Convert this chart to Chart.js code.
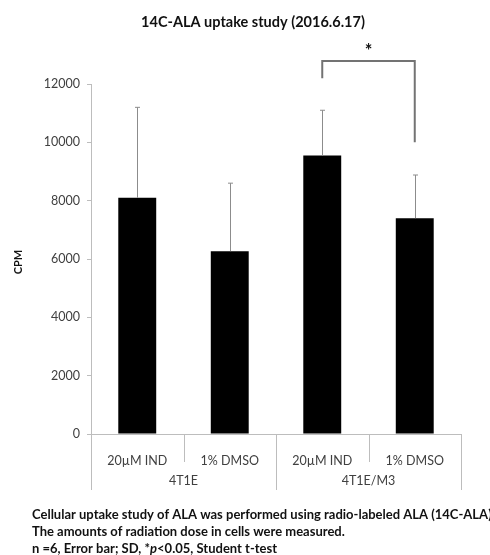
<!DOCTYPE html>
<html>
<head>
<meta charset="utf-8">
<script src="https://cdn.jsdelivr.net/npm/chart.js@4"></script>
<style>
  body { margin: 0; background: #fff; }
</style>
</head>
<body>
<canvas id="myChart" width="490" height="555"></canvas>
<script>
const categories = ["20µM IND", "1% DMSO", "20µM IND", "1% DMSO"];
const groups = ["4T1E", "4T1E/M3"];
const cpmMean = [8100, 6270, 9550, 7400];
const cpmSD = [3100, 2330, 1550, 1480];
// significance bracket between bar 3 and bar 4
const bracket = { from: 2, to: 3, top: 12790, leftEnd: 12200, rightEnd: 10000, label: "*" };
const notes = [
  "Cellular uptake study of ALA was performed using radio-labeled ALA (14C-ALA)",
  "The amounts of radiation dose in cells were measured.",
];

const font = "Lato, 'Open Sans', sans-serif";

const extras = {
  id: "extras",
  afterDraw(chart) {
    const c = chart.ctx;
    const x = chart.scales.x;
    const y = chart.scales.y;
    const area = chart.chartArea;
    c.save();

    // error bars
    c.strokeStyle = "#8c8c8c";
    c.lineWidth = 1;
    cpmMean.forEach((v, i) => {
      const px = Math.round(x.getPixelForValue(i)) + 0.5;
      const y0 = y.getPixelForValue(v);
      const y1 = y.getPixelForValue(v + cpmSD[i]);
      c.beginPath();
      c.moveTo(px, y0);
      c.lineTo(px, y1);
      c.moveTo(px - 2.5, y1);
      c.lineTo(px + 2.5, y1);
      c.stroke();
    });

    // x axis line and separators
    c.strokeStyle = "#bdbdbd";
    c.lineWidth = 1;
    c.beginPath();
    c.moveTo(area.left, area.bottom + 0.5);
    c.lineTo(area.right, area.bottom + 0.5);
    const step = (area.right - area.left) / categories.length;
    for (let i = 0; i <= categories.length; i++) {
      const sx = Math.round(area.left + step * i) + 0.5;
      const len = i % 2 === 0 ? 56 : 28;
      c.moveTo(sx, area.bottom);
      c.lineTo(sx, area.bottom + len);
    }
    c.stroke();

    // group labels
    c.fillStyle = "#404040";
    c.font = "12.5px " + font;
    c.textAlign = "center";
    c.textBaseline = "middle";
    groups.forEach((g, i) => {
      const gx = area.left + step * (2 * i + 1);
      c.fillText(g, gx, area.bottom + 47);
    });

    // y axis title
    c.save();
    c.translate(18, 262);
    c.rotate(-Math.PI / 2);
    c.fillStyle = "#111";
    c.font = "bold 11px " + font;
    c.fillText("CPM", 0, 0);
    c.restore();

    // bracket
    const bx1 = x.getPixelForValue(bracket.from);
    const bx2 = x.getPixelForValue(bracket.to);
    const bt = y.getPixelForValue(bracket.top);
    c.strokeStyle = "#737373";
    c.lineWidth = 2;
    c.beginPath();
    c.moveTo(bx1, y.getPixelForValue(bracket.leftEnd));
    c.lineTo(bx1, bt);
    c.lineTo(bx2, bt);
    c.lineTo(bx2, y.getPixelForValue(bracket.rightEnd));
    c.stroke();
    c.fillStyle = "#111";
    c.font = "bold 18px " + font;
    c.fillText(bracket.label, (bx1 + bx2) / 2, bt - 10);

    // title
    c.font = "bold 14.5px " + font;
    c.fillStyle = "#111";
    c.fillText("14C-ALA uptake study (2016.6.17)", 253, 22);

    // footnotes
    c.textAlign = "left";
    c.font = "bold 13px " + font;
    c.fillText(notes[0], 32, 515);
    c.fillText(notes[1], 32, 532);
    let nx = 32;
    const parts = [["n =6, Error bar; SD, *", "bold 13px "], ["p", "bold italic 13px "], ["<0.05, Student t-test", "bold 13px "]];
    parts.forEach(([t, f]) => {
      c.font = f + font;
      c.fillText(t, nx, 549);
      nx += c.measureText(t).width;
    });
    c.restore();
  },
};

new Chart(document.getElementById("myChart"), {
  type: "bar",
  data: {
    labels: categories,
    datasets: [
      {
        data: cpmMean,
        backgroundColor: "#000",
        categoryPercentage: 1,
        barPercentage: 0.41,
      },
    ],
  },
  options: {
    responsive: false,
    animation: false,
    layout: { padding: { top: 84, bottom: 61, right: 29, left: 0 } },
    plugins: {
      legend: { display: false },
      tooltip: { enabled: false },
    },
    scales: {
      x: {
        afterFit: (s) => { s.height = 60; },
        grid: { display: false },
        border: { display: false },
        ticks: { color: "#404040", font: { family: font, size: 12.5 }, padding: 11, maxRotation: 0 },
      },
      y: {
        min: 0,
        max: 12000,
        afterFit: (s) => { s.width = 91; },
        ticks: { stepSize: 2000, color: "#404040", font: { family: font, size: 12.5 }, padding: 7, callback: (v) => String(v) },
        grid: { drawOnChartArea: false, drawTicks: true, tickLength: 4, color: "#bdbdbd" },
        border: { color: "#bdbdbd" },
      },
    },
  },
  plugins: [extras],
});
</script>
</body>
</html>
